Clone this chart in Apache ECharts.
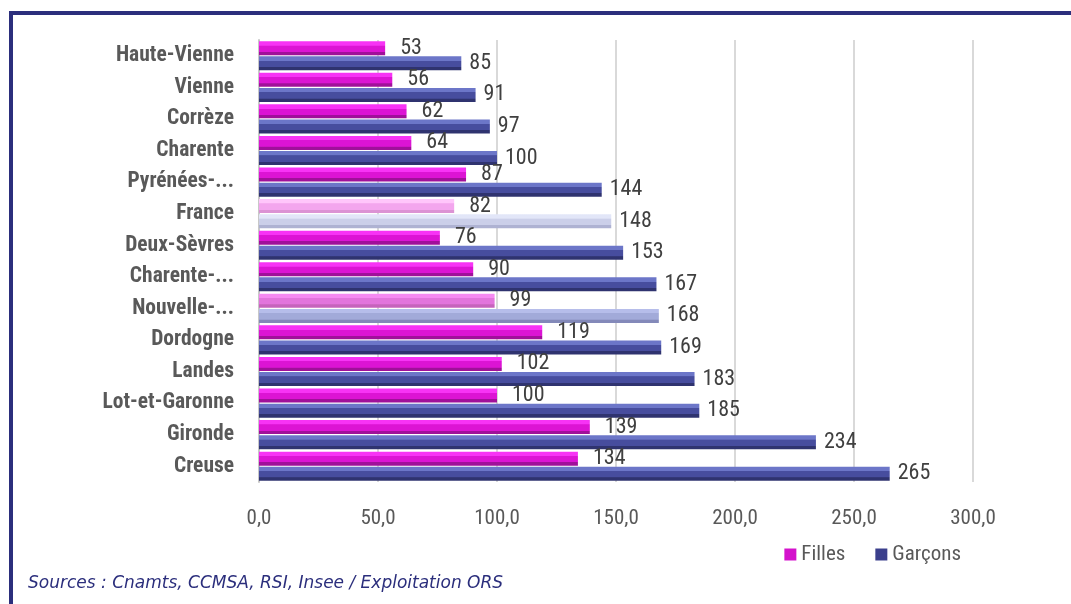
<!DOCTYPE html>
<html><head><meta charset="utf-8">
<script src="https://cdn.jsdelivr.net/npm/echarts@6/dist/echarts.min.js"></script>
<style>html,body{margin:0;padding:0;background:#fff}#c{width:1071px;height:604px}</style>
</head><body><div id="c"></div>
<script>
const categories = ["Haute-Vienne","Vienne","Corrèze","Charente","Pyrénées-...","France","Deux-Sèvres","Charente-...","Nouvelle-...","Dordogne","Landes","Lot-et-Garonne","Gironde","Creuse"];
const filles = [53,56,62,64,87,82,76,90,99,119,102,100,139,134];
const garcons = [85,91,97,100,144,148,153,167,168,169,183,185,234,265];
const xTicks = [0,50,100,150,200,250,300];

function grad(a,b,c){return {type:'linear',x:0,y:0,x2:0,y2:1,colorStops:[{offset:0,color:a},{offset:0.3,color:a},{offset:0.32,color:b},{offset:0.75,color:b},{offset:0.77,color:c},{offset:1,color:c}]};}
const fNorm = grad('#f733f5','#dc14d4','#a0109a');
const gNorm = grad('#6c76c8','#474d9e','#2f336f');
const special = {
  'France': {f: grad('#ffc6fb','#f3a6ee','#dc93d4'), g: grad('#e2e6f8','#cbcfe9','#aeb2d2')},
  'Nouvelle-...': {f: grad('#f58af2','#e274dc','#c663bc'), g: grad('#b6bdea','#a2aad9','#8389b9')}
};
function items(vals, key){
  return vals.map((v,i)=>{
    const s = special[categories[i]];
    return {value:v, itemStyle:{color: s ? s[key] : (key==='f'?fNorm:gNorm)}};
  });
}
const COND = {fontFamily:'Roboto',fontStyle:'condensed'};
const chart = echarts.init(document.getElementById('c'));
chart.setOption({
  animation:false,
  grid:{left:259,right:98,top:40,bottom:122,containLabel:false},
  legend:{right:105,top:539,itemWidth:12,itemHeight:12,itemGap:30,
    textStyle:Object.assign({fontSize:21,color:'#595959'},COND),
    data:[{name:'Filles',icon:'rect',itemStyle:{color:'#d412cc'}},{name:'Garçons',icon:'rect',itemStyle:{color:'#3b3f8c'}}]},
  xAxis:{type:'value',min:0,max:300,interval:50,
    axisLine:{show:false},axisTick:{show:false},
    splitLine:{show:true,lineStyle:{color:'#d9d9d9',width:2}},
    axisLabel:Object.assign({margin:26,fontSize:21,color:'#595959',
      formatter:v=>v.toFixed(1).replace('.',',')},COND)},
  yAxis:{type:'category',inverse:true,data:categories,
    axisLine:{show:true,lineStyle:{color:'#c8c8c8',width:2}},axisTick:{show:false},
    axisLabel:Object.assign({margin:25,fontSize:21.5,color:'#595959',fontWeight:'bold',padding:[5,0,0,0]},COND)},
  series:[
    {name:'Filles',type:'bar',data:items(filles,'f'),barWidth:14,barGap:'8%',
     label:Object.assign({show:true,position:'right',distance:15,fontSize:22,color:'#404040'},COND)},
    {name:'Garçons',type:'bar',data:items(garcons,'g'),barWidth:14,barGap:'8%',
     label:Object.assign({show:true,position:'right',distance:8,fontSize:22,color:'#404040',padding:[3,0,0,0]},COND)}
  ],
  graphic:[
    {type:'rect',shape:{x:9,y:11,width:1062,height:4},style:{fill:'#2b2e7c'},silent:true},
    {type:'rect',shape:{x:9,y:11,width:4,height:593},style:{fill:'#2b2e7c'},silent:true},
    {type:'text',left:28,top:575,style:{text:'Sources : Cnamts, CCMSA, RSI, Insee / Exploitation ORS',
      font:'italic 17px "DejaVu Sans",sans-serif',fill:'#2b2e7c'}}
  ]
});
</script></body></html>
